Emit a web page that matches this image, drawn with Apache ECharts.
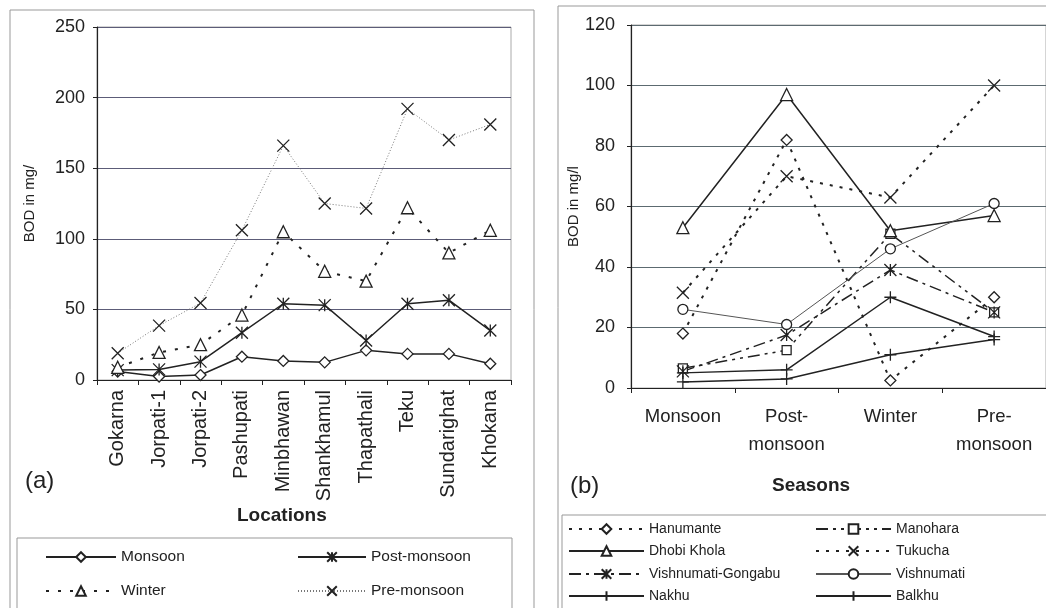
<!DOCTYPE html>
<html>
<head>
<meta charset="utf-8">
<script src="https://cdn.jsdelivr.net/npm/echarts@6/dist/echarts.min.js"></script>
<style>
  html, body { margin: 0; padding: 0; background: #fff; }
  #chart { width: 1046px; height: 608px; }
</style>
</head>
<body>
<div id="chart"></div>
<script>
// (a) BOD by location
const locations = ['Gokarna', 'Jorpati-1', 'Jorpati-2', 'Pashupati', 'Minbhawan',
  'Shankhamul', 'Thapathali', 'Teku', 'Sundarighat', 'Khokana']
const monsoonA = [6, 2.5, 3.5, 16.5, 13.5, 12.5, 21, 18.5, 18.5, 11.5]
const postMonsoonA = [7, 7.5, 13, 33.5, 54, 53, 28, 54, 56.5, 35]
const winterA = [9, 19.5, 25, 46, 105, 77, 70, 122, 90, 106]
const preMonsoonA = [19, 38.5, 54.5, 106, 166, 125, 121.5, 192, 170, 181]

// (b) BOD by season
const seasons = ['Monsoon', 'Post-\nmonsoon', 'Winter', 'Pre-\nmonsoon']
const hanumante = [18, 82, 2.5, 30]
const manohara = [6.5, 12.5, 51, 25]
const dhobiKhola = [53, 97, 52, 57]
const tukucha = [31.5, 70, 63, 100]
const vishnumatiGongabu = [5.5, 17.5, 39, 25]
const vishnumati = [26, 21, 46, 61]
const nakhu = [5, 6, 30, 17]
const balkhu = [2, 3, 11, 16]

const FONT = 'Liberation Sans, Arial, sans-serif'
const INK = '#222'

const SYM = {
  x: 'path://M0,0L10,10M10,0L0,10',
  star: 'path://M0,0L10,10M10,0L0,10M5,0L5,10',
  plus: 'path://M5,0L5,10M0,5L10,5'
}

function line(name, data, gi, symbol, dash, opts) {
  opts = opts || {}
  return {
    name: name,
    type: 'line',
    xAxisIndex: gi,
    yAxisIndex: gi,
    data: data,
    symbol: symbol,
    symbolSize: opts.size || 10,
    showAllSymbol: true,
    lineStyle: { color: opts.color || INK, width: opts.width || 1.5, type: dash },
    // markers stay dark even where the line is drawn grey
    itemStyle: { color: '#fff', borderColor: INK, borderWidth: 1.3 },
    emphasis: { disabled: true },
    z: opts.z || 3
  }
}

// one legend box per entry so every entry sits where the reference has it
function legendItem(name, left, top, w, size) {
  return {
    left: left, top: top, padding: 0,
    itemWidth: w, itemHeight: 12, itemGap: 4,
    textStyle: { color: INK, fontSize: size, fontFamily: FONT },
    data: [name]
  }
}

const chart = echarts.init(document.getElementById('chart'))

const option = {
  animation: false,
  textStyle: { fontFamily: FONT },
  grid: [
    { left: 97, right: 535, top: 27, bottom: 228, show: true, borderColor: '#aaa', borderWidth: 1 },
    { left: 631, right: 0, top: 25, bottom: 220, show: true, borderColor: '#aaa', borderWidth: 1 }
  ],
  xAxis: [
    {
      gridIndex: 0,
      type: 'category',
      data: locations,
      axisLine: { lineStyle: { color: INK, width: 1.2 } },
      axisTick: { show: true, length: 5, lineStyle: { color: INK } },
      axisLabel: { rotate: 90, color: INK, fontSize: 20, margin: 10 }
    },
    {
      gridIndex: 1,
      type: 'category',
      data: seasons,
      axisLine: { lineStyle: { color: INK, width: 1.2 } },
      axisTick: { show: true, length: 5, lineStyle: { color: INK } },
      axisLabel: { color: INK, fontSize: 18.5, margin: 15, lineHeight: 28 }
    }
  ],
  yAxis: [
    {
      gridIndex: 0,
      type: 'value',
      min: 0, max: 250, interval: 50,
      name: 'BOD in mg/',
      nameLocation: 'middle',
      nameGap: 60,
      nameTextStyle: { color: INK, fontSize: 15 },
      axisLine: { show: true, lineStyle: { color: INK, width: 1.2 } },
      axisTick: { show: true, length: 4, lineStyle: { color: INK } },
      axisLabel: { color: INK, fontSize: 18, margin: 12 },
      splitLine: { lineStyle: { color: '#5c5c78', width: 1.2 } }
    },
    {
      gridIndex: 1,
      type: 'value',
      min: 0, max: 120, interval: 20,
      name: 'BOD in mg/l',
      nameLocation: 'middle',
      nameGap: 41,
      nameTextStyle: { color: INK, fontSize: 15 },
      axisLine: { show: true, lineStyle: { color: INK, width: 1.2 } },
      axisTick: { show: true, length: 4, lineStyle: { color: INK } },
      axisLabel: { color: INK, fontSize: 18, margin: 16 },
      splitLine: { lineStyle: { color: '#5c6a70', width: 1.2 } }
    }
  ],
  legend: [
    legendItem('Monsoon', 45, 549, 70, 15.5),
    legendItem('Post-monsoon', 297, 549, 68, 15.5),
    legendItem('Winter', 45, 583, 70, 15.5),
    legendItem('Pre-monsoon', 297, 583, 68, 15.5),
    legendItem('Hanumante', 568, 522, 75, 14),
    legendItem('Dhobi Khola', 568, 544, 75, 14),
    legendItem('Vishnumati-Gongabu', 568, 567, 75, 14),
    legendItem('Nakhu', 568, 589, 75, 14),
    legendItem('Manohara', 815, 522, 75, 14),
    legendItem('Tukucha', 815, 544, 75, 14),
    legendItem('Vishnumati', 815, 567, 75, 14),
    legendItem('Balkhu', 815, 589, 75, 14)
  ],
  graphic: [
    { type: 'rect', shape: { x: 10, y: 10, width: 524, height: 620 }, style: { fill: 'none', stroke: '#999', lineWidth: 1 }, z: -1 },
    { type: 'rect', shape: { x: 558, y: 6, width: 500, height: 620 }, style: { fill: 'none', stroke: '#999', lineWidth: 1 }, z: -1 },
    { type: 'rect', shape: { x: 17, y: 538, width: 495, height: 80 }, style: { fill: 'none', stroke: '#999', lineWidth: 1 }, z: -1 },
    { type: 'rect', shape: { x: 562, y: 515, width: 490, height: 100 }, style: { fill: 'none', stroke: '#999', lineWidth: 1 }, z: -1 },
    { type: 'text', left: 25, top: 469, style: { text: '(a)', font: '24px ' + FONT, fill: INK } },
    { type: 'text', left: 570, top: 474, style: { text: '(b)', font: '24px ' + FONT, fill: INK } },
    { type: 'text', left: 237, top: 506, style: { text: 'Locations', font: 'bold 19px ' + FONT, fill: INK } },
    { type: 'text', left: 772, top: 476, style: { text: 'Seasons', font: 'bold 19px ' + FONT, fill: INK } }
  ],
  series: [
    line('Monsoon', monsoonA, 0, 'diamond', 'solid', { size: 11 }),
    line('Post-monsoon', postMonsoonA, 0, SYM.star, 'solid', { size: 12 }),
    line('Winter', winterA, 0, 'triangle', [3, 9], { width: 2, size: 12 }),
    line('Pre-monsoon', preMonsoonA, 0, SYM.x, [1, 2], { width: 1, color: '#777', size: 12, z: 2 }),

    line('Hanumante', hanumante, 1, 'diamond', [3, 7], { width: 2, size: 11 }),
    line('Manohara', manohara, 1, 'rect', [12, 5, 3, 5, 3, 5], { size: 9 }),
    line('Dhobi Khola', dhobiKhola, 1, 'triangle', 'solid', { size: 12 }),
    line('Tukucha', tukucha, 1, SYM.x, [3, 7], { width: 2, size: 12 }),
    line('Vishnumati-Gongabu', vishnumatiGongabu, 1, SYM.star, [12, 5, 3, 5], { size: 12 }),
    line('Vishnumati', vishnumati, 1, 'circle', 'solid', { width: 1, color: '#555', size: 10 }),
    line('Nakhu', nakhu, 1, SYM.plus, 'solid', { size: 12 }),
    line('Balkhu', balkhu, 1, SYM.plus, 'solid', { size: 12 })
  ]
}

chart.setOption(option)
</script>
</body>
</html>
